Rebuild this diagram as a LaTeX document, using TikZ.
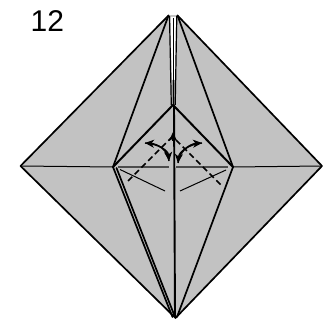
\documentclass[tikz,border=0pt]{standalone}
\usepackage{fontspec}
\setmainfont{Liberation Sans}
\usetikzlibrary{arrows.meta}
\definecolor{paper}{gray}{0.76}
\tikzset{
  x=1pt,y=-1pt,
  crease/.style={line width=1pt,black},
  edge/.style={line width=1.7pt,black,line join=round,line cap=round},
  fold/.style={line width=1.5pt,black,dash pattern=on 6pt off 3.5pt},
  move/.style={line width=1.4pt,black,-{Stealth[length=9pt,width=8pt,inset=2.5pt]}},
}
\begin{document}
\begin{tikzpicture}
\useasboundingbox (0,0) rectangle (323,320);
\coordinate (L) at (20.5,166);
\coordinate (R) at (322,166);
\coordinate (TL) at (168.5,15.5);
\coordinate (TR) at (177.5,15.5);
\coordinate (T) at (173,15);
\coordinate (B) at (175.5,318);
\coordinate (IL) at (113,167);
\coordinate (IR) at (233,167);
\coordinate (IT) at (173,105);
\fill[paper] (L) -- (TL) -- (T) -- (TR) -- (R) -- (B) -- cycle;
% pleat at the top
\fill[white] (170.5,17) -- (176,17) -- (174.8,80) -- (171.8,80) -- cycle;
\fill[gray!80] (171.5,80) -- (175,80) -- (174.8,104) -- (171.8,104) -- cycle;
\draw[line width=1.2pt] (169.5,16) -- (171.3,105);
\draw[line width=1.2pt] (176.8,16) -- (175.2,105);
\draw[line width=1.1pt] (173.2,18) -- (173.2,105);
% outline
\draw[edge] (L) -- (TL) (TR) -- (R) -- (B) -- (L);
% thin creases
\draw[crease] (L) -- (IL);
\draw[crease,line width=1.2pt,black!70] (118,167) -- (168.5,167);
\draw[crease,line width=1.2pt,black!70] (176,167) -- (228,167);
\draw[crease] (120,169.5) -- (165,191);
\draw[crease] (180,191) -- (226,170);
\draw[crease] (IR) -- (R);
% heavy folds
\draw[edge] (IL) -- (TL);
\draw[edge] (IR) -- (TR);
\draw[edge,line width=2pt] (IL) -- (IT) -- (IR);
\draw[edge] (IL) -- (172.5,317);
\draw[edge] (116.5,168) -- (175,317);
\draw[edge] (IR) -- (177,317);
\draw[edge,line width=1.9pt] (174,105) -- (175,317);
% folds and arrows
\draw[fold] (128,181) -- (172,137);
\draw[fold] (176,140) -- (222,186);
\draw[move] (145,143) .. controls (158,144) and (168,150) .. (169,161);
\draw[move] (169,161) .. controls (168,150) and (158,144) .. (145,143);
\draw[move] (202,143) .. controls (189,144) and (179,152) .. (178,163);
\draw[move] (178,163) .. controls (179,152) and (189,144) .. (202,143);
\draw[move] (173,141) -- (173,132);
\node[font=\fontsize{30}{30}\selectfont,anchor=base west,inner sep=0pt] (n) at (30.5,32) {12};
\end{tikzpicture}
\end{document}
